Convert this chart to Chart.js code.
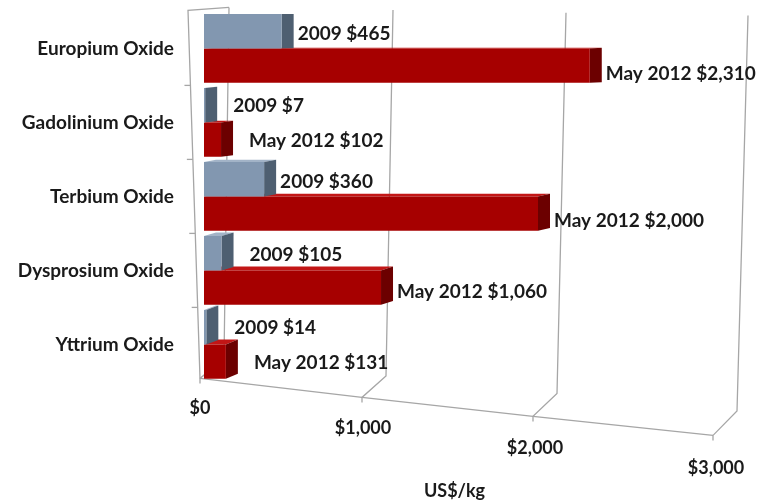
<!DOCTYPE html>
<html>
<head>
<meta charset="utf-8">
<script src="https://cdn.jsdelivr.net/npm/chart.js@4.4.1/dist/chart.umd.min.js"></script>
<style>
  html, body { margin: 0; padding: 0; background: #fff; }
  #wrap { width: 767px; height: 502px; }
</style>
</head>
<body>
<div id="wrap"><canvas id="priceChart" width="767" height="502"></canvas></div>
<script>
// rare earth oxide prices, US$/kg
const categories = ['Europium Oxide', 'Gadolinium Oxide', 'Terbium Oxide', 'Dysprosium Oxide', 'Yttrium Oxide'];
const seriesNames = ['2009', 'May 2012'];
const price2009 = [465, 7, 360, 105, 14];
const priceMay2012 = [2310, 102, 2000, 1060, 131];
const xTicks = [0, 1000, 2000, 3000];

const FONT = 'Lato, "Open Sans", sans-serif';
const TEXT = '#1a1a1a';
const FRAME = '#a6a6a6';

// colours for the fake 3d faces: front, side (right end), top
const faces = [
  { front: '#8297b0', side: '#4e5f71', top: '#a2b3c7' },
  { front: '#a60000', side: '#6c0000', top: '#c21616' }
];

function fmt(v) {
  return '$' + v.toLocaleString('en-US');
}

function poly(ctx, pts) {
  ctx.beginPath();
  ctx.moveTo(pts[0][0], pts[0][1]);
  for (let i = 1; i < pts.length; i++) ctx.lineTo(pts[i][0], pts[i][1]);
  ctx.closePath();
  ctx.fill();
}

// floor / back wall points for a value, built on the x scale
function framePoints(chart, v) {
  const A = chart.chartArea;
  const p = chart.scales.x.getPixelForValue(v);
  const t = v / 1000;
  const fx = p - 4 - 9.5 * t + 4.5 * t * t;
  const fy = A.bottom - 3 + 19 * t;
  const bx = fx + 24;
  const by = fy - 20 - 1.5 * t;
  const tx = bx + 5 + 2 * t;
  const ty = A.top - 4 + 2.7 * t;
  return { fx, fy, bx, by, tx, ty, t };
}

const frame3d = {
  id: 'frame3d',
  beforeDatasetsDraw(chart) {
    const ctx = chart.ctx;
    const A = chart.chartArea;
    const yScale = chart.scales.y;
    ctx.save();
    ctx.strokeStyle = FRAME;
    ctx.lineWidth = 1.3;

    // left wall front edge + its top edge
    const lx0 = A.left - 16, ly0 = A.top - 1;
    const lx1 = A.left - 4, ly1 = A.bottom - 3;
    const p0 = framePoints(chart, xTicks[0]);
    ctx.beginPath();
    ctx.moveTo(p0.tx, p0.ty);
    ctx.lineTo(lx0, ly0);
    ctx.lineTo(lx1, ly1);
    ctx.stroke();

    // category tick marks on the left wall
    for (let i = 0; i < categories.length - 1; i++) {
      const y = (yScale.getPixelForValue(i) + yScale.getPixelForValue(i + 1)) / 2;
      const x = lx0 + (lx1 - lx0) * (y - ly0) / (ly1 - ly0);
      ctx.beginPath();
      ctx.moveTo(x - 6, y);
      ctx.lineTo(x, y);
      ctx.stroke();
    }

    // floor front edge
    const pts = xTicks.map(v => framePoints(chart, v));
    ctx.beginPath();
    pts.forEach((q, i) => i ? ctx.lineTo(q.fx, q.fy) : ctx.moveTo(q.fx, q.fy));
    ctx.stroke();

    // depth lines, back wall gridlines, small ticks
    pts.forEach(q => {
      ctx.beginPath();
      ctx.moveTo(q.fx, q.fy + 5);
      ctx.lineTo(q.fx, q.fy);
      ctx.lineTo(q.bx, q.by);
      ctx.lineTo(q.tx, q.ty);
      ctx.stroke();
    });

    // side and top faces of the bars, behind the front faces
    for (let di = chart.data.datasets.length - 1; di >= 0; di--) {
      const meta = chart.getDatasetMeta(di);
      const col = faces[di];
      meta.data.forEach(bar => {
        const { x, y, base, height } = bar.getProps(['x', 'y', 'base', 'height'], true);
        const top = y - height / 2, bottom = y + height / 2;
        const dx = 12;
        const dy = -(top - A.top) * 0.015;
        ctx.fillStyle = col.top;
        poly(ctx, [[base, top], [base + dx, top + dy], [x + dx, top + dy], [x, top]]);
        ctx.fillStyle = col.side;
        poly(ctx, [[x, top], [x + dx, top + dy], [x + dx, bottom + dy], [x, bottom]]);
      });
    }
    ctx.restore();
  },
  afterDatasetsDraw(chart) {
    const ctx = chart.ctx;
    const A = chart.chartArea;
    ctx.save();
    ctx.fillStyle = TEXT;
    ctx.textBaseline = 'middle';

    // value labels, nudged down a little toward the far end like the 3d original
    ctx.font = 'bold 19px ' + FONT;
    ctx.textAlign = 'left';
    chart.data.datasets.forEach((ds, di) => {
      chart.getDatasetMeta(di).data.forEach((bar, i) => {
        const v = ds.data[i];
        const gap = v < 200 ? 16 : 4;
        const sink = (bar.x - A.left) * 0.02;
        ctx.fillText(ds.label + ' ' + fmt(v), bar.x + 12 + gap, bar.y + 1 + sink);
      });
    });

    // x tick labels along the slanted floor
    ctx.font = 'bold 18px ' + FONT;
    ctx.textAlign = 'center';
    xTicks.forEach(v => {
      const q = framePoints(chart, v);
      ctx.fillText(fmt(v), q.fx + q.t, q.fy + 30 + q.t);
    });
    ctx.restore();
  }
};

new Chart(document.getElementById('priceChart').getContext('2d'), {
  type: 'bar',
  data: {
    labels: categories,
    datasets: [
      {
        label: seriesNames[0],
        data: price2009,
        backgroundColor: faces[0].front,
        borderWidth: 0
      },
      {
        label: seriesNames[1],
        data: priceMay2012,
        backgroundColor: faces[1].front,
        borderWidth: 0
      }
    ]
  },
  options: {
    indexAxis: 'y',
    responsive: false,
    animation: false,
    categoryPercentage: 0.93,
    barPercentage: 1.0,
    layout: { padding: { top: 11, right: 62, bottom: 0, left: 0 } },
    scales: {
      x: {
        type: 'linear',
        min: 0,
        max: 3000,
        ticks: { display: false, stepSize: 1000 },
        grid: { display: false, drawTicks: false },
        border: { display: false },
        title: {
          display: true,
          text: 'US$/kg',
          color: TEXT,
          font: { family: FONT, size: 18, weight: 'bold' },
          padding: { top: 99, bottom: 0 }
        }
      },
      y: {
        grid: { display: false, drawTicks: true, tickLength: 30 },
        border: { display: false },
        ticks: {
          color: TEXT,
          padding: 0,
          font: { family: FONT, size: 19, weight: 'bold' }
        },
        afterFit(scale) { scale.width = 204; }
      }
    },
    plugins: {
      legend: { display: false },
      tooltip: { enabled: false }
    }
  },
  plugins: [frame3d]
});
</script>
</body>
</html>
